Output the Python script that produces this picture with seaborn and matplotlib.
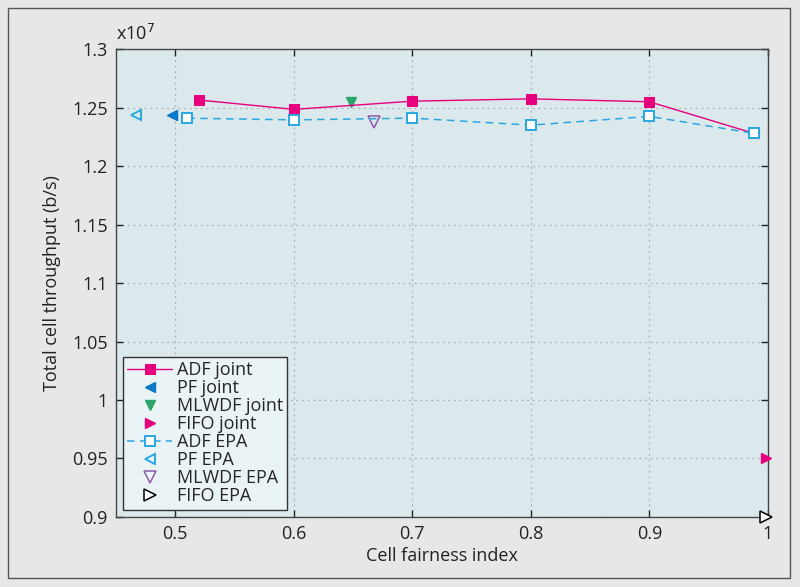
import matplotlib
matplotlib.use("Agg")
import matplotlib.pyplot as plt
import seaborn as sns
import pandas as pd
from matplotlib.patches import Rectangle

# data (throughput in units of 1e7 b/s)
adf_joint_x = [0.52, 0.60, 0.70, 0.80, 0.90, 0.988]
adf_joint_y = [1.2565, 1.2485, 1.2555, 1.2575, 1.2550, 1.2280]
adf_epa_x = [0.51, 0.60, 0.70, 0.80, 0.90, 0.988]
adf_epa_y = [1.2410, 1.2395, 1.2410, 1.2350, 1.2425, 1.2280]

single_labels = ["PF joint", "MLWDF joint", "FIFO joint", "PF EPA", "MLWDF EPA", "FIFO EPA"]
single_x = [0.497, 0.648, 0.998, 0.467, 0.668, 0.998]
single_y = [1.2440, 1.2545, 0.9500, 1.2440, 1.2375, 0.9000]

x_ticks = [0.5, 0.6, 0.7, 0.8, 0.9, 1.0]
x_tick_labels = ["0.5", "0.6", "0.7", "0.8", "0.9", "1"]
y_ticks = [0.9, 0.95, 1.0, 1.05, 1.1, 1.15, 1.2, 1.25, 1.3]
y_tick_labels = ["0.9", "0.95", "1", "1.05", "1.1", "1.15", "1.2", "1.25", "1.3"]

PINK = "#e6007e"
BLUE = "#0a78c4"
GREEN = "#2ba56b"
LBLUE = "#29a8e0"
PURPLE = "#8c5aa8"

sns.set_theme(style="ticks")
plt.rcParams["font.family"] = ["Open Sans", "DejaVu Sans"]

fig = plt.figure(figsize=(8, 5.87), dpi=100, facecolor="#e6e7e8")
fig.patches.append(Rectangle((8 / 800, 9 / 587), 782 / 800, 570 / 587, transform=fig.transFigure,
                             fill=False, edgecolor="#555555", linewidth=1.0))
ax = fig.add_axes([0.145, 0.1193, 0.815, 0.797])
ax.set_facecolor("#dce9ec")

df_joint = pd.DataFrame({"x": adf_joint_x, "y": adf_joint_y})
df_epa = pd.DataFrame({"x": adf_epa_x, "y": adf_epa_y})

sns.lineplot(data=df_joint, x="x", y="y", ax=ax, color=PINK, linewidth=1.0,
             marker="s", markersize=7, markeredgecolor=PINK, label="ADF joint", zorder=3)
ax.plot(single_x[0], single_y[0], ls="none", marker="<", ms=7,
        color=BLUE, mec=BLUE, label="PF joint", clip_on=False)
ax.plot(single_x[1], single_y[1], ls="none", marker="v", ms=7,
        color=GREEN, mec=GREEN, label="MLWDF joint")
ax.plot(single_x[2], single_y[2], ls="none", marker=">", ms=7,
        color=PINK, mec=PINK, label="FIFO joint", clip_on=False, zorder=5)
sns.lineplot(data=df_epa, x="x", y="y", ax=ax, color=LBLUE, linewidth=1.1, linestyle=(0, (5, 3.5)),
             marker="s", markersize=7, markerfacecolor="white", markeredgecolor=LBLUE,
             markeredgewidth=1.4, label="ADF EPA", zorder=3)
ax.plot(single_x[3], single_y[3], ls="none", marker="<", ms=7, mfc="none",
        mec=LBLUE, mew=1.4, label="PF EPA")
ax.plot(single_x[4], single_y[4], ls="none", marker="v", ms=8, mfc="none",
        mec=PURPLE, mew=1.1, label="MLWDF EPA")
ax.plot(single_x[5], single_y[5], ls="none", marker=">", ms=8, mfc="white",
        mec="black", mew=1.1, label="FIFO EPA", clip_on=False, zorder=5)

ax.set_xlim(0.45, 1.0)
ax.set_ylim(0.9, 1.3)
ax.set_xticks(x_ticks)
ax.set_xticklabels(x_tick_labels)
ax.set_yticks(y_ticks)
ax.set_yticklabels(y_tick_labels)
ax.tick_params(direction="in", top=True, right=True, length=5, width=1, labelsize=13,
               colors="#222222", pad=6)
ax.grid(True, linestyle=(0, (1.5, 3)), color="#b0b0b0", linewidth=0.9)
for s in ax.spines.values():
    s.set_color("#444444")
    s.set_linewidth(1.0)

ax.set_xlabel("Cell fairness index", fontsize=13, color="#222222", labelpad=3)
ax.set_ylabel("Total cell throughput (b/s)", fontsize=13, color="#222222", labelpad=8)
ax.text(0.0, 1.01, "x10$^7$", transform=ax.transAxes, fontsize=13, color="#222222",
        ha="left", va="bottom")

leg = ax.legend(loc="lower left", bbox_to_anchor=(0.01, 0.015), fontsize=13, frameon=True,
                fancybox=False, edgecolor="#333333", facecolor="#eaf3f5", framealpha=1,
                handlelength=2.5, handletextpad=0.25, labelspacing=0.0, borderpad=0.25,
                borderaxespad=0)
leg.get_frame().set_linewidth(1.0)

fig.savefig("out.png", dpi=100, facecolor=fig.get_facecolor())
